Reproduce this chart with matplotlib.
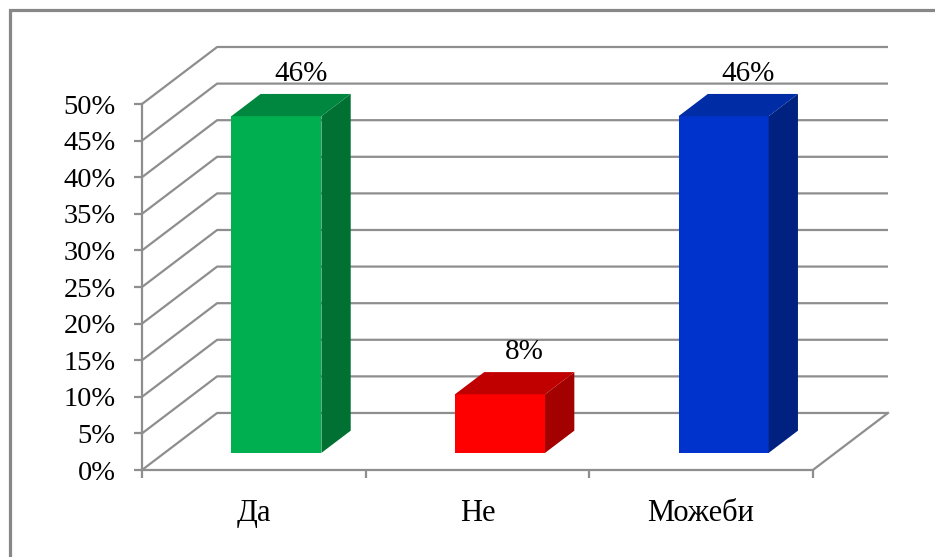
import matplotlib
matplotlib.use("Agg")
import matplotlib.pyplot as plt
from matplotlib.patches import Polygon, Rectangle
from matplotlib.ticker import FuncFormatter, FixedLocator

# Survey answers and their shares (%)
categories = ["Да", "Не", "Можеби"]
values = [46, 8, 46]
labels = ["46%", "8%", "46%"]
y_ticks = [0, 5, 10, 15, 20, 25, 30, 35, 40, 45, 50]

# Face colours for each bar: front, top, side
front_colors = ["#00B050", "#FF0000", "#0033CC"]
top_colors = ["#00873F", "#C00000", "#002DA6"]
side_colors = ["#007133", "#A30000", "#00217F"]

# 3-D box geometry in data units
DX = 0.336          # full depth offset along x (category units)
DY = 7.79           # full depth offset along y (percent units)
D0, D1 = 0.30, 0.69  # bar depth span as fractions of the full depth
BAR_W = 0.403
GRID = "#8e8e8e"
FONT = ["Liberation Serif", "DejaVu Serif"]

W, H = 935, 557
fig = plt.figure(figsize=(W / 100, H / 100), dpi=100)
fig.patch.set_facecolor("white")

# outer chart frame
fig.patches.append(Rectangle((9.5 / W, -0.05), 1.1, (H - 10) / H + 0.05,
                             transform=fig.transFigure, fill=False,
                             edgecolor="#878787", linewidth=2.3))

ax = fig.add_axes([142 / W, (H - 470) / H, (888 - 142) / W, (470 - 47) / H])
n = len(categories)
ax.set_xlim(0, n + DX)
ax.set_ylim(0, y_ticks[-1] + DY)
ax.set_facecolor("none")

# walls: side-wall diagonals and back-wall horizontal gridlines
for v in y_ticks:
    ax.plot([0, DX, n + DX], [v, v + DY, v + DY], color=GRID, lw=1.6,
            solid_capstyle="butt", zorder=1, clip_on=False)
# floor right edge
ax.plot([n, n + DX], [0, DY], color=GRID, lw=1.6, zorder=1, clip_on=False)

# axes spines and ticks
for s in ("top", "right"):
    ax.spines[s].set_visible(False)
for s in ("left", "bottom"):
    ax.spines[s].set_color(GRID)
    ax.spines[s].set_linewidth(1.6)
    ax.spines[s].set_zorder(2)
ax.spines["left"].set_bounds(0, y_ticks[-1])
ax.spines["bottom"].set_bounds(0, n)

ax.yaxis.set_major_locator(FixedLocator(y_ticks))
ax.yaxis.set_major_formatter(FuncFormatter(lambda v, p: f"{v:.0f}%"))
ax.tick_params(axis="y", direction="out", length=6, width=1.6, color=GRID,
               pad=13, labelsize=20.5)
ax.xaxis.set_major_locator(FixedLocator(list(range(n + 1))))
ax.xaxis.set_major_formatter(FuncFormatter(lambda v, p: ""))
ax.xaxis.set_minor_locator(FixedLocator([i + 0.5 for i in range(n)]))
ax.set_xticklabels(categories, minor=True)
ax.tick_params(axis="x", which="major", direction="out", length=6, width=1.6,
               color=GRID)
ax.tick_params(axis="x", which="minor", length=0, pad=21, labelsize=22)
for t in ax.get_yticklabels() + ax.get_xticklabels(minor=True):
    t.set_fontfamily(FONT)

# 3-D bars
x_front = [i + 0.5 + D0 * DX for i in range(n)]
base = D0 * DY
ddx, ddy = (D1 - D0) * DX, (D1 - D0) * DY
ax.bar(x_front, values, width=BAR_W, bottom=base, color=front_colors,
       linewidth=0, zorder=3)
for xc, v, tc, sc, lab in zip(x_front, values, top_colors, side_colors, labels):
    xl, xr = xc - BAR_W / 2, xc + BAR_W / 2
    top = base + v
    ax.add_patch(Polygon([(xr, base), (xr + ddx, base + ddy),
                          (xr + ddx, top + ddy), (xr, top)],
                         closed=True, facecolor=sc, edgecolor="none", zorder=3))
    ax.add_patch(Polygon([(xl, top), (xl + ddx, top + ddy),
                          (xr + ddx, top + ddy), (xr, top)],
                         closed=True, facecolor=tc, edgecolor="none", zorder=3))
    ax.annotate(lab, xy=(xc + ddx / 2 + 0.045, top + ddy), xytext=(0, 9.5),
                textcoords="offset points", ha="center", va="baseline",
                fontsize=21, fontfamily=FONT, color="black", zorder=4)

fig.savefig("out.png", dpi=100)
